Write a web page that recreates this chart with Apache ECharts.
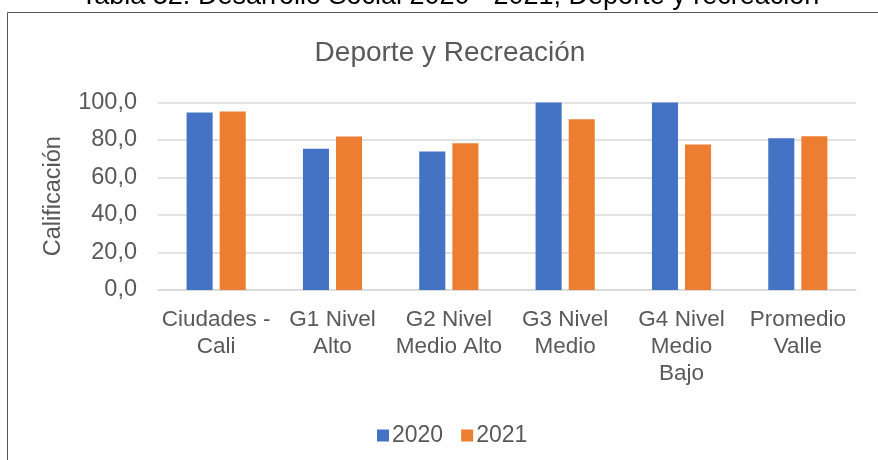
<!DOCTYPE html>
<html>
<head>
<meta charset="utf-8">
<script src="https://cdn.jsdelivr.net/npm/echarts@6/dist/echarts.min.js"></script>
<style>
html,body{margin:0;padding:0;background:#fff;}
#c{width:878px;height:460px;}
</style>
</head>
<body>
<div id="c"></div>
<script>
const categories = ["Ciudades -\nCali", "G1 Nivel\nAlto", "G2 Nivel\nMedio Alto", "G3 Nivel\nMedio", "G4 Nivel\nMedio\nBajo", "Promedio\nValle"];
const seriesNames = ["2020", "2021"];
const values2020 = [94.7, 75.3, 73.9, 100.0, 100.0, 81.0];
const values2021 = [95.2, 81.9, 78.3, 91.1, 77.6, 82.0];
const yTicks = [0, 20, 40, 60, 80, 100];
const outerTitle = "Tabla 32. Desarrollo Social 2020 - 2021; Deporte y recreación";
const chartTitle = "Deporte y Recreación";
const yName = "Calificación";

const FONT = '"Liberation Sans", Arial, sans-serif';
const chart = echarts.init(document.getElementById('c'), null, {renderer: 'canvas'});
chart.setOption({
  animation: false,
  textStyle: {fontFamily: FONT},
  graphic: [
    {type: 'rect', shape: {x: 7.5, y: 12.5, width: 900, height: 500}, style: {fill: 'none', stroke: '#555', lineWidth: 1}, z: 0, silent: true},
    {type: 'text', x: 450, y: -3, style: {text: outerTitle, font: '27px ' + FONT, fill: '#000', textAlign: 'center', textVerticalAlign: 'middle'}, z: 1},
    {type: 'text', x: 450, y: 53, style: {text: chartTitle, font: '28px ' + FONT, fill: '#595959', textAlign: 'center', textVerticalAlign: 'middle'}, z: 1}
  ],
  legend: {
    data: seriesNames,
    left: 372,
    top: 419,
    itemWidth: 12,
    itemHeight: 12,
    itemGap: 18,
    icon: 'rect',
    textStyle: {fontSize: 23, color: '#595959', fontFamily: FONT, padding: [0, 0, 0, -2]}
  },
  grid: {left: 158, right: 22, top: 102.5, bottom: 170, containLabel: false},
  xAxis: {
    type: 'category',
    data: categories,
    axisTick: {show: false},
    axisLine: {lineStyle: {color: '#d9d9d9', width: 1.5}},
    axisLabel: {interval: 0, fontSize: 22.5, lineHeight: 27, color: '#595959', margin: 16, fontFamily: FONT}
  },
  yAxis: {
    type: 'value',
    min: yTicks[0],
    max: yTicks[yTicks.length - 1],
    interval: 20,
    name: yName,
    nameLocation: 'middle',
    nameGap: 92,
    nameRotate: 90,
    nameTextStyle: {fontSize: 23.5, color: '#595959', fontFamily: FONT},
    axisLine: {show: false},
    axisTick: {show: false},
    splitLine: {lineStyle: {color: '#d9d9d9', width: 1.5}},
    axisLabel: {fontSize: 23.5, color: '#595959', margin: 21, fontFamily: FONT,
      formatter: v => v.toFixed(1).replace('.', ',')}
  },
  series: [
    {name: seriesNames[0], type: 'bar', data: values2020, barWidth: '22.4%', barGap: '27%', itemStyle: {color: '#4472C4'}},
    {name: seriesNames[1], type: 'bar', data: values2021, barWidth: '22.4%', barGap: '27%', itemStyle: {color: '#ED7D31'}}
  ]
});
</script>
</body>
</html>
